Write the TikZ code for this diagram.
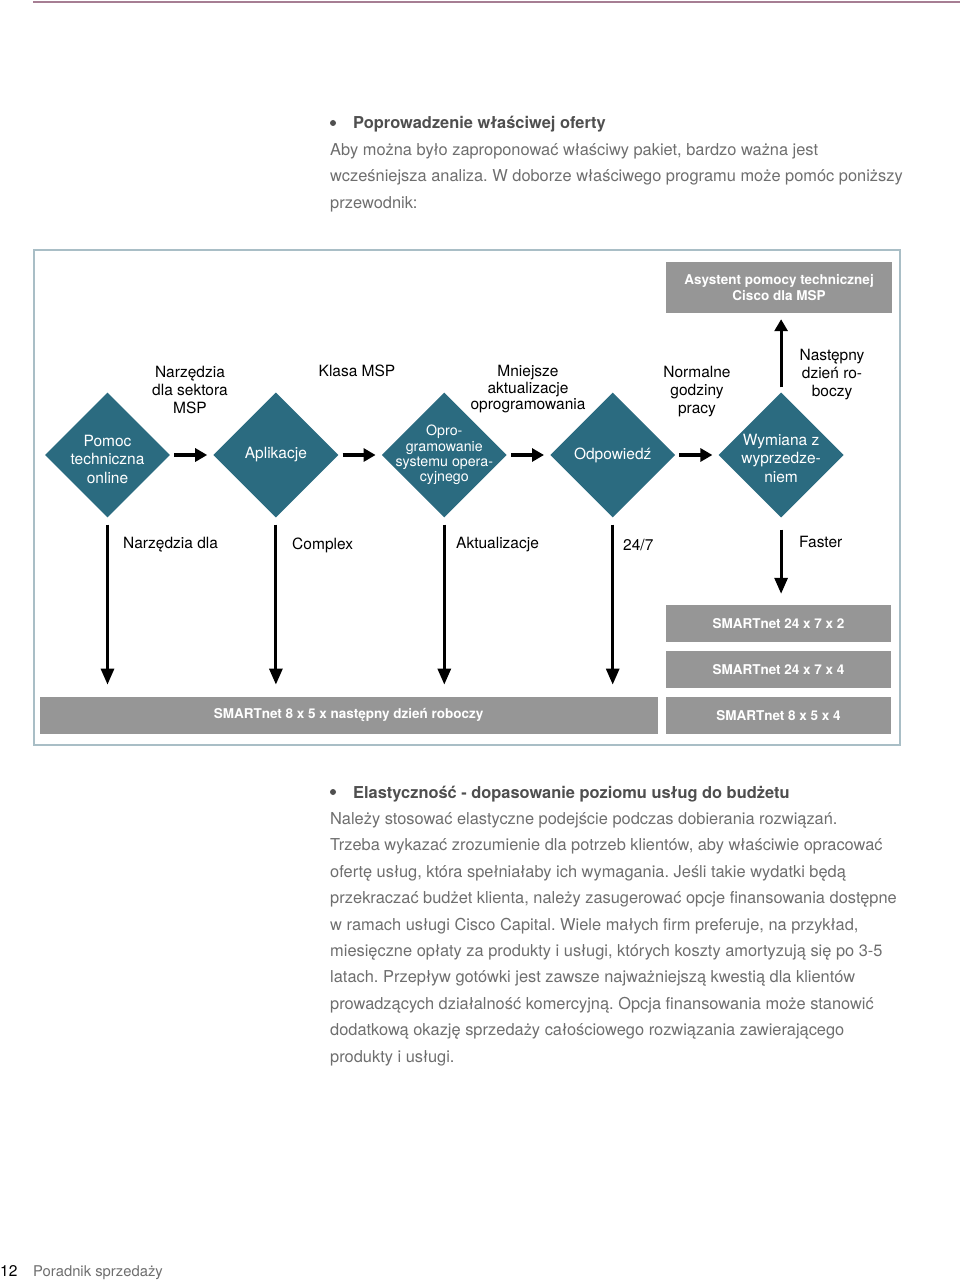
\documentclass[tikz,border=0pt]{standalone}
\usepackage{fontspec}
\setmainfont{TeX Gyre Heros}
\usetikzlibrary{positioning,arrows.meta,shapes.geometric}
\definecolor{ciscoTeal}{HTML}{2B6B80}
\definecolor{ciscoGray}{HTML}{969696}
\definecolor{frameBlue}{HTML}{A9BEC6}
\definecolor{textGray}{HTML}{6E6E6E}
\definecolor{headGray}{HTML}{4F4F4F}
\definecolor{ruleMauve}{HTML}{A67E93}
\frenchspacing

\begin{document}
\begin{tikzpicture}[x=1pt,y=-1pt,node distance=43pt,
        dia/.style={diamond,aspect=1,fill=ciscoTeal,minimum width=125pt,minimum height=125pt,inner sep=0pt},
        dtext/.style={text=white,align=center,inner sep=0pt,font=\fontsize{15.5}{18.5}\selectfont},
        tag/.style={align=center,inner sep=0pt,font=\fontsize{15.5}{18}\selectfont},
        plan/.style={fill=ciscoGray,text=white,align=center,inner sep=0pt,minimum width=225pt,minimum height=37pt,
                     font=\bfseries\fontsize{13.5}{16.5}\selectfont},
        flow/.style={-{Triangle[length=12pt,width=13pt]},line width=3.5pt},
        drop/.style={-{Triangle[length=16pt,width=13pt]},line width=3pt,shorten <=7pt,shorten >=12pt},
        dot/.style={circle,fill=headGray,inner sep=0pt,minimum size=6pt},
        body/.style={anchor=base west,inner sep=0pt,text=textGray,font=\fontsize{16.4}{26}\selectfont},
        head/.style={body,text=headGray,font=\bfseries\fontsize{16.4}{26}\selectfont}]
        \useasboundingbox (0,0) rectangle (960,1281);
        \draw[ruleMauve,line width=1.5pt] (33,2) -- (960,2);

        \node[dot] (b1) at (333,123) {};
        \node[head] (h1) at (353,129) {Poprowadzenie właściwej oferty};
        \foreach \txt [count=\i] in {{Aby można było zaproponować właściwy pakiet, bardzo ważna jest},
                {wcześniejsza analiza. W doborze właściwego programu może pomóc poniższy},
                {przewodnik:}}
          \node[body] (top\i) at (330,{129+26.4*\i}) {\txt};

        \draw[frameBlue,line width=1.2pt] (34,250) rectangle (900,745);

        \node[dia] (d1) at (107.5,455) {};
        \node[dia,right=of d1] (d2) {};
        \node[dia,right=of d2] (d3) {};
        \node[dia,right=of d3] (d4) {};
        \node[dia,right=of d4] (d5) {};
        \node[dtext] (t1) at ([yshift=-4pt]d1) {Pomoc\\techniczna\\online};
        \node[dtext] (t2) at (d2) {Aplikacje};
        \node[dtext,font=\fontsize{14.2}{15.3}\selectfont] (t3) at (d3) {Opro-\\gramowanie\\systemu opera-\\cyjnego};
        \node[dtext] (t4) at (d4) {Odpowiedź};
        \node[dtext] (t5) at ([yshift=-3pt]d5) {Wymiana z\\wyprzedze-\\niem};

        \node[tag,anchor=north] (l1) at (190,366) {Narzędzia\\dla sektora\\MSP};
        \node[tag,anchor=north] (l2) at (357,365) {Klasa MSP};
        \node[tag,anchor=north,font=\fontsize{15.5}{16.5}\selectfont] (l3) at (528,365) {Mniejsze\\aktualizacje\\oprogramowania};
        \node[tag,anchor=north] (l4) at (697,366) {Normalne\\godziny\\pracy};
        \node[tag,anchor=north] (l5) at (832,349) {Następny\\dzień ro-\\boczy};

        \draw[flow,shorten <=4pt,shorten >=6pt] (d1) -- (d2);
        \draw[flow,shorten <=4pt,shorten >=6pt] (d2) -- (d3);
        \draw[flow,shorten <=4pt,shorten >=6pt] (d3) -- (d4);
        \draw[flow,shorten <=4pt,shorten >=6pt] (d4) -- (d5);

        \node[plan,minimum width=226pt,minimum height=51pt] (cisco) at (779,287.5) {Asystent pomocy technicznej\\Cisco dla MSP};
        \draw[flow,line width=3pt,shorten <=5pt,shorten >=6pt] (d5.north) -- (d5.north |- cisco.south);

        \node[plan] (s1) at (778.5,623.5) {SMARTnet 24 x 7 x 2};
        \node[plan,below=9pt of s1] (s2) {SMARTnet 24 x 7 x 4};
        \node[plan,below=8pt of s2] (s3) {SMARTnet 8 x 5 x 4};
        \node[plan,minimum width=618pt,left=8pt of s3] (base) {SMARTnet 8 x 5 x następny dzień roboczy};

        \draw[drop] (d1.south) -- (d1.south |- base.north);
        \draw[drop] (d2.south) -- (d2.south |- base.north);
        \draw[drop] (d3.south) -- (d3.south |- base.north);
        \draw[drop] (d4.south) -- (d4.south |- base.north);
        \draw[drop,shorten <=12pt,shorten >=11pt] (d5.south) -- (d5.south |- s1.north);

        \node[tag,anchor=west] (n1) at (123,545) {Narzędzia dla};
        \node[tag,anchor=west] (n2) at (292,545) {Complex};
        \node[tag,anchor=west] (n3) at (456,545) {Aktualizacje};
        \node[tag,anchor=west] (n4) at (623,545) {24/7};
        \node[tag,anchor=west] (n5) at (799,542) {Faster};

        \node[dot] (b2) at (333,792) {};
        \node[head] (h2) at (353,798) {Elastyczność - dopasowanie poziomu usług do budżetu};
        \foreach \txt [count=\i] in {{Należy stosować elastyczne podejście podczas dobierania rozwiązań.},
                {Trzeba wykazać zrozumienie dla potrzeb klientów, aby właściwie opracować},
                {ofertę usług, która spełniałaby ich wymagania. Jeśli takie wydatki będą},
                {przekraczać budżet klienta, należy zasugerować opcje finansowania dostępne},
                {w ramach usługi Cisco Capital. Wiele małych firm preferuje, na przykład,},
                {miesięczne opłaty za produkty i usługi, których koszty amortyzują się po 3-5},
                {latach. Przepływ gotówki jest zawsze najważniejszą kwestią dla klientów},
                {prowadzących działalność komercyjną. Opcja finansowania może stanowić},
                {dodatkową okazję sprzedaży całościowego rozwiązania zawierającego},
                {produkty i usługi.}}
          \node[body] (low\i) at (330,{798+26.4*\i}) {\txt};

        \node[anchor=base west,inner sep=0pt,font=\fontsize{15.5}{18}\selectfont] (page) at (0,1276) {12};
        \node[body,font=\fontsize{14.8}{18}\selectfont] (foot) at (33,1276) {Poradnik sprzedaży};
      \end{tikzpicture}
\end{document}
